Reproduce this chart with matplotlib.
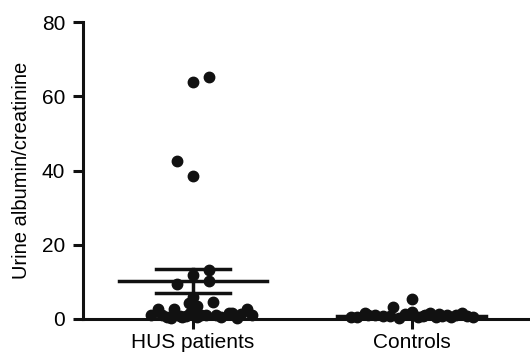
import numpy as np
import matplotlib
matplotlib.use('Agg')
import matplotlib.pyplot as plt

plt.rcParams['font.family'] = ['Liberation Sans', 'DejaVu Sans']

groups = ['HUS patients', 'Controls']

# values, with small horizontal offsets (scatter spread)
hus_vals = [65.2, 63.9, 42.7, 38.4, 13.2, 11.8, 10.2, 9.4, 6.0, 4.6, 4.2, 3.5,
            1.0, 2.7, 2.7, 1.5, 1.0, 1.0, 1.0, 1.5, 1.5, 2.7, 1.0,
            0.5, 0.5, 0.5, 0.3, 0.3, 1.2, 0.8, 1.2, 0.6, 1.3, 0.9]
hus_dx = [0.075, 0.0, -0.075, 0.0, 0.075, 0.0, 0.075, -0.075, 0.0, 0.09, -0.017, 0.017,
          -0.19, -0.16, -0.085, -0.015, 0.035, 0.06, 0.105, 0.165, 0.18, 0.245, 0.27,
          -0.12, -0.05, 0.13, 0.2, -0.1, -0.14, -0.03, 0.0, 0.02, 0.22, -0.06]
hus_mean = 10.2
hus_sem = 3.3

ctrl_vals = [5.4, 3.3, 0.5, 1.6, 1.2, 1.8, 1.4, 1.5, 1.2, 1.0, 1.5, 1.4, 0.5,
             0.6, 0.8, 0.3, 0.4, 0.7, 0.5, 0.6, 1.0, 0.8, 1.1, 0.9, 0.7]
ctrl_dx = [0.0, -0.085, -0.28, -0.215, -0.17, 0.0, -0.03, 0.085, 0.16, 0.2, 0.23, 0.125, 0.28,
           -0.25, -0.13, -0.06, 0.03, 0.05, 0.11, 0.18, -0.2, -0.1, 0.06, 0.14, 0.25]
ctrl_mean = 0.9
ctrl_sem = 0.3

fig = plt.figure(figsize=(5.3, 3.56), dpi=100)
ax = fig.add_axes([0.157, 0.104, 0.843, 0.834])

pos = [1, 2]
means = [hus_mean, ctrl_mean]
sems = [hus_sem, ctrl_sem]
for p, m, s in zip(pos, means, sems):
    ax.plot([p - 0.34, p + 0.34], [m, m], color='#111111', lw=2.5, zorder=3, clip_on=False)
    ax.plot([p - 0.17, p + 0.17], [m + s, m + s], color='#111111', lw=2.5, zorder=3)
    ax.plot([p - 0.17, p + 0.17], [m - s, m - s], color='#111111', lw=2.5, zorder=3)
    ax.plot([p, p], [m - s, m + s], color='#111111', lw=2.5, zorder=3)

ax.plot(1 + np.array(hus_dx), hus_vals, 'o', color='#111111', ms=7.5, clip_on=False, zorder=4)
ax.plot(2 + np.array(ctrl_dx), ctrl_vals, 'o', color='#111111', ms=7.5, clip_on=False, zorder=4)

ax.set_xlim(0.498, 2.54)
ax.set_ylim(0, 80)
ax.set_yticks([0, 20, 40, 60, 80])
ax.set_xticks(pos)
ax.set_xticklabels(groups)
ax.set_ylabel('Urine albumin/creatinine', fontsize=14.5, labelpad=8)

for s in ['top', 'right']:
    ax.spines[s].set_visible(False)
for s in ['left', 'bottom']:
    ax.spines[s].set_linewidth(2.2)
    ax.spines[s].set_color('#111111')
ax.tick_params(axis='both', width=2.2, length=7, labelsize=15, color='#111111')
ax.tick_params(axis='y', pad=6)
ax.tick_params(axis='x', pad=3)

fig.savefig('out.png', dpi=100)
